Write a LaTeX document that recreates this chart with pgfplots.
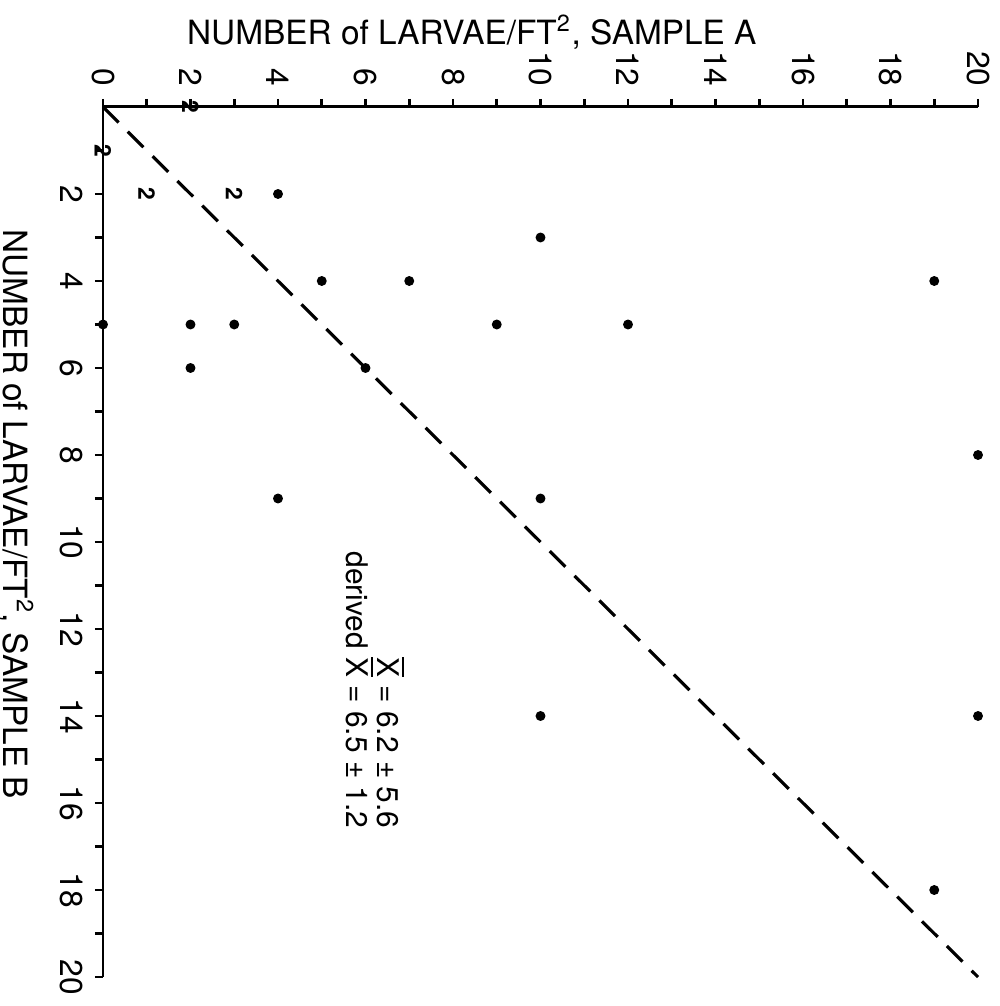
\documentclass[border=0pt]{standalone}
\usepackage{fontspec}
\setmainfont{TeX Gyre Heros}
\usepackage{pgfplots}
\usepackage{pgfplotstable}
\pgfplotsset{compat=1.18}

% X with a bar over it
\newcommand{\xbar}{\vbox{\hrule height 0.5pt \kern 0.9pt \hbox{X}}}

% single samples (A, B)
\pgfplotstableread{
a  b
4  2
10 3
19 4
5  4
7  4
9  5
12 5
0  5
2  5
3  5
2  6
6  6
20 8
4  9
10 9
10 14
20 14
19 18
}\dots

% points counted twice, drawn as the digit 2
\pgfplotstableread{
a b m
1 2 2
3 2 2
2 0 2
0 1 2
}\twos

\begin{document}
\begin{tikzpicture}
  \begin{axis}[
      scale only axis,
      width=8.75cm,
      height=8.70cm,
      xmin=0, xmax=20,
      ymin=0, ymax=20,
      y dir=reverse,
      axis x line=top,
      axis y line=left,
      x axis line style={-},
      y axis line style={-},
      axis line style={line width=0.85pt},
      xtick={0,2,...,20},
      minor xtick={1,3,...,19},
      ytick={2,4,...,20},
      minor ytick={1,3,...,19},
      tick align=outside,
      major tick length=0.08cm,
      minor tick length=0.08cm,
      tick style={black, line width=0.8pt},
      tick label style={font=\fontsize{9}{9}\selectfont},
      xticklabel style={rotate=-90, anchor=east},
      yticklabel style={rotate=-90, anchor=north},
      /pgf/number format/assume math mode=true,
      clip=false,
    ]
    \addplot[only marks, mark=*, mark size=1.2pt, black] table[x=a, y=b] {\dots};
    \addplot[only marks, mark=none, nodes near coords, point meta=explicit symbolic,
      nodes near coords style={anchor=center, rotate=-90,
        font=\bfseries\fontsize{6.5}{6.5}\selectfont}]
      table[x=a, y=b, meta=m] {\twos};
    \addplot[black, line width=0.9pt, dash pattern=on 0.22cm off 0.13cm]
      coordinates {(0,0) (20,20)};

    \node[rotate=-90, align=right, font=\fontsize{8.5}{8.8}\selectfont]
      at (axis cs:6.22,13.4) {\xbar\ = 6.2 ± 5.6\\derived \xbar\ = 6.5 ± 1.2};

    \path (axis cs:8.43,0) ++(0,0.75cm)
      node[font=\fontsize{9.5}{9.5}\selectfont] {NUMBER of LARVAE/FT\textsuperscript{2}, SAMPLE A};
    \path (axis cs:0,9.36) ++(-0.87cm,0)
      node[rotate=-90, inner sep=1pt, font=\fontsize{9.5}{9.5}\selectfont] {NUMBER of LARVAE/FT\textsuperscript{2}, SAMPLE B};

    \coordinate (tl) at (axis cs:0,0);
    \coordinate (br) at (axis cs:20,20);
  \end{axis}
  \pgfresetboundingbox
  \path ([shift={(-1.03cm,1.07cm)}]tl) rectangle ([shift={(0.21cm,-0.29cm)}]br);
\end{tikzpicture}
\end{document}
